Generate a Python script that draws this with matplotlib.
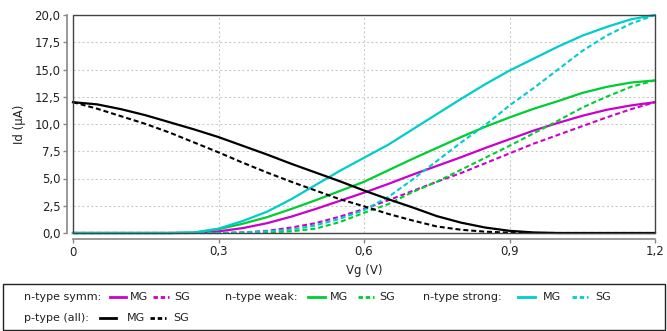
import matplotlib
matplotlib.use("Agg")
import matplotlib.pyplot as plt
from matplotlib.lines import Line2D
from matplotlib.patches import Rectangle
from matplotlib.ticker import FuncFormatter

# Vg sweep (V)
vg = [0, .05, .1, .15, .2, .25, .3, .35, .4, .45, .5, .55, .6,
      .65, .7, .75, .8, .85, .9, .95, 1.0, 1.05, 1.1, 1.15, 1.2]

# Id (uA)
symm_mg = [0, 0, 0, 0, 0, 0.01, 0.15, 0.45, 0.9, 1.5, 2.2, 2.95, 3.7,
           4.5, 5.35, 6.15, 6.95, 7.8, 8.6, 9.4, 10.1, 10.75, 11.3, 11.7, 12.0]
symm_sg = [0, 0, 0, 0, 0, 0, 0, 0.05, 0.2, 0.5, 0.9, 1.5, 2.2,
           3.0, 3.85, 4.7, 5.5, 6.4, 7.3, 8.2, 9.0, 9.8, 10.6, 11.35, 12.0]
weak_mg = [0, 0, 0, 0, 0, 0.03, 0.35, 0.85, 1.45, 2.2, 3.0, 3.85, 4.7,
           5.75, 6.8, 7.8, 8.8, 9.75, 10.6, 11.4, 12.1, 12.85, 13.4, 13.8, 14.0]
weak_sg = [0, 0, 0, 0, 0, 0, 0, 0.02, 0.06, 0.15, 0.4, 1.0, 1.85,
           2.65, 3.75, 4.7, 5.8, 6.9, 8.0, 9.15, 10.3, 11.5, 12.5, 13.4, 14.0]
strong_mg = [0, 0, 0, 0, 0, 0.05, 0.4, 1.1, 1.95, 3.1, 4.4, 5.7, 6.9,
             8.1, 9.5, 10.9, 12.3, 13.65, 14.9, 16.0, 17.1, 18.1, 18.9, 19.6, 20.0]
strong_sg = [0, 0, 0, 0, 0, 0, 0, 0.05, 0.15, 0.3, 0.7, 1.3, 2.1,
             3.3, 4.9, 6.6, 8.3, 9.9, 11.7, 13.3, 15.0, 16.7, 18.1, 19.2, 20.0]
p_mg = [12.0, 11.8, 11.35, 10.8, 10.15, 9.5, 8.8, 8.0, 7.2, 6.35, 5.55, 4.75, 3.9,
        3.1, 2.35, 1.55, 0.95, 0.5, 0.2, 0.05, 0, 0, 0, 0, 0]
p_sg = [12.0, 11.4, 10.7, 10.0, 9.2, 8.3, 7.4, 6.45, 5.55, 4.7, 3.9, 3.1, 2.45,
        1.75, 1.15, 0.6, 0.3, 0.12, 0.03, 0, 0, 0, 0, 0, 0]

groups = ["n-type symm:", "n-type weak:", "n-type strong:", "p-type (all):"]
colors = ["#cc00cc", "#00cc33", "#00cccc", "#000000"]
mg_series = [symm_mg, weak_mg, strong_mg, p_mg]
sg_series = [symm_sg, weak_sg, strong_sg, p_sg]

W, H = 667, 331
fig = plt.figure(figsize=(W / 100, H / 100), dpi=100)
ax = fig.add_axes([73 / W, 1 - 233 / H, (655 - 73) / W, (233 - 15) / H])

for c, mg, sg in zip(colors, mg_series, sg_series):
    ax.plot(vg, mg, color=c, lw=1.6, clip_on=False, zorder=3)
    ax.plot(vg, sg, color=c, lw=1.5, ls=(0, (2.4, 1.4)), clip_on=False, zorder=3)

ax.set_xlim(0, 1.2)
ax.set_ylim(0, 20)
ax.set_xticks([0, 0.3, 0.6, 0.9, 1.2])
ax.set_yticks([0, 2.5, 5, 7.5, 10, 12.5, 15, 17.5, 20])
ax.xaxis.set_major_formatter(FuncFormatter(
    lambda v, p: "0" if v == 0 else ("%.1f" % v).replace(".", ",")))
ax.yaxis.set_major_formatter(FuncFormatter(
    lambda v, p: ("%.1f" % v).replace(".", ",")))
ax.grid(True, color="#cccccc", ls=(0, (2, 2)), lw=0.8)
ax.set_axisbelow(True)

for s in ["top", "right"]:
    ax.spines[s].set_visible(False)
for s in ["left", "bottom"]:
    ax.spines[s].set_position(("outward", 4))
    ax.spines[s].set_color("#888888")
    ax.spines[s].set_linewidth(1.2)
# dark frame round the plot area
ax.add_patch(Rectangle((0, 0), 1, 1, transform=ax.transAxes, fill=False,
                       ec="#444444", lw=1.0, zorder=4, clip_on=False))
ax.tick_params(direction="out", length=3, width=1, color="#888888",
               labelsize=8.5, labelcolor="#222222", pad=2)
ax.set_xlabel("Vg (V)", fontsize=8.5, color="#222222", labelpad=4)
ax.set_ylabel("Id (µA)", fontsize=8.5, color="#222222", labelpad=6)

# legend box drawn at figure level
fig.patches.append(Rectangle((3 / W, 1 - 330 / H), 662 / W, 46 / H,
                             transform=fig.transFigure, fill=False,
                             ec="#222222", lw=1.0))
# (row y, text x, line x0, line x1, MG x, dash x0, dash x1, SG x)
slots = [(297, 24, 110, 126, 130, 153, 169, 174),
         (297, 225, 308, 325, 330, 358, 374, 379),
         (297, 423, 518, 535, 543, 572, 588, 595),
         (318, 24, 100, 116, 127, 150, 166, 173)]
for (y, tx, l0, l1, mx, d0, d1, sx), g, c in zip(slots, groups, colors):
    yf = 1 - y / H
    fig.text(tx / W, yf, g, fontsize=8, va="center", color="#222222")
    fig.lines.append(Line2D([l0 / W, l1 / W], [yf, yf], color=c, lw=2,
                            transform=fig.transFigure))
    fig.text(mx / W, yf, "MG", fontsize=8, va="center", color="#222222")
    fig.lines.append(Line2D([d0 / W, d1 / W], [yf, yf], color=c, lw=2,
                            ls=(0, (1.6, 1.0)), transform=fig.transFigure))
    fig.text(sx / W, yf, "SG", fontsize=8, va="center", color="#222222")

fig.savefig("out.png", dpi=100, facecolor="white")
